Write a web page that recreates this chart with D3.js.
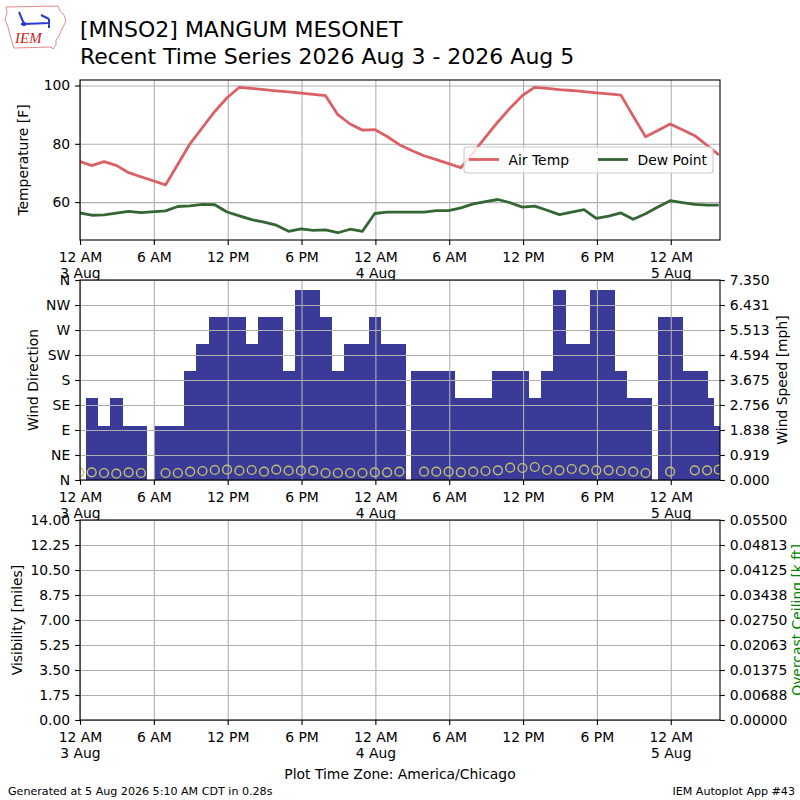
<!DOCTYPE html>
<html>
<head>
<meta charset="utf-8">
<script src="https://cdn.jsdelivr.net/npm/d3@7"></script>
<style>
  body { margin: 0; background: #fff; }
  svg { font-family: 'DejaVu Sans', sans-serif; }
</style>
</head>
<body>
<div id="graf"></div>
<script>
// observaciones (hora local CDT)
obsTime = ['2026-08-02 23:57', '2026-08-03 00:57', '2026-08-03 01:57', '2026-08-03 02:57', '2026-08-03 03:57',
  '2026-08-03 04:57', '2026-08-03 06:32', '2026-08-03 06:57', '2026-08-03 07:57', '2026-08-03 08:57',
  '2026-08-03 09:57', '2026-08-03 10:57', '2026-08-03 11:57', '2026-08-03 12:57', '2026-08-03 13:57',
  '2026-08-03 14:57', '2026-08-03 15:57', '2026-08-03 16:57', '2026-08-03 17:57', '2026-08-03 18:57',
  '2026-08-03 19:57', '2026-08-03 20:57', '2026-08-03 21:57', '2026-08-03 22:57', '2026-08-03 23:57',
  '2026-08-04 00:57', '2026-08-04 01:57', '2026-08-04 02:57', '2026-08-04 03:26', '2026-08-04 03:57',
  '2026-08-04 04:57', '2026-08-04 05:57', '2026-08-04 06:57', '2026-08-04 07:57', '2026-08-04 08:57',
  '2026-08-04 09:57', '2026-08-04 10:57', '2026-08-04 11:57', '2026-08-04 12:57', '2026-08-04 13:57',
  '2026-08-04 14:57', '2026-08-04 15:57', '2026-08-04 16:57', '2026-08-04 17:57', '2026-08-04 18:57',
  '2026-08-04 19:57', '2026-08-04 20:57', '2026-08-04 21:57', '2026-08-04 22:57', '2026-08-04 23:27',
  '2026-08-04 23:57', '2026-08-05 00:26', '2026-08-05 00:57', '2026-08-05 01:26', '2026-08-05 01:57',
  '2026-08-05 02:29', '2026-08-05 02:57', '2026-08-05 03:54']

airTemp = [74.0, 72.5, 73.9, 72.6, 70.1,
  68.7, null, 65.9, 73.0, 80.1,
  85.6, 91.1, 95.8, 99.4, 99.0,
  98.6, 98.2, 97.8, 97.4, 97.0,
  96.5, 90.0, 86.8, 84.7, 84.9,
  82.5, 79.7, 77.7, null, 75.9,
  74.6, 73.2, 71.8, 77.0, 82.3,
  87.5, 92.3, 96.6, 99.4, 99.0,
  98.6, 98.3, 97.9, 97.5, 97.1,
  96.7, 89.5, 82.4, 84.6, null,
  86.8, null, 84.8, null, 82.8,
  null, 79.5, 76.2]

dewPoint = [56.3, 55.5, 55.6, 56.2, 56.8,
  56.4, null, 57.0, 58.5, 58.7,
  59.2, 59.1, 56.6, 55.3, 54.0,
  53.1, 52.1, 50.0, 50.8, 50.3,
  50.5, 49.5, 50.7, 50.0, 56.1,
  56.6, 56.6, 56.6, null, 56.6,
  57.1, 57.1, 58.0, 59.4, 60.2,
  60.9, 59.8, 58.3, 58.6, 57.2,
  55.7, 56.6, 57.4, 54.4, 55.2,
  56.3, 54.1, 56.0, 58.3, null,
  60.5, null, 59.8, null, 59.2,
  null, 59.0, 59.0]

windSpeed = [null, 3, 2, 3, 2,
  2, 2, 2, 2, 4,
  5, 6, 6, 6, 5,
  6, 6, 4, 7, 7,
  6, 4, 5, 5, 6,
  5, 5, null, 4, 4,
  4, 4, 3, 3, 3,
  4, 4, 4, 3, 4,
  7, 5, 5, 7, 7,
  4, 3, 3, null, 6,
  6, 6, null, 4, 4,
  4, 3, 2]

windDir = [13.8, 13.8, 12.6, 11.4, 13.8,
  12.6, null, 12.6, 12.6, 15.0,
  16.2, 18.0, 18.6, 16.8, 18.0,
  15.0, 18.6, 16.8, 16.8, 16.8,
  12.6, 12.6, 12.6, 12.6, 13.8,
  13.8, 15.0, null, null, 15.0,
  15.0, 15.0, 13.8, 15.0, 16.2,
  17.4, 22.2, 21.6, 23.4, 18.0,
  17.4, 19.8, 18.6, 17.4, 17.4,
  16.2, 15.0, 12.6, null, null,
  15.0, null, null, null, 17.4,
  null, 17.4, 18.6]

tempTicks = [60, 80, 100]
dirTicks = [0, 45, 90, 135, 180, 225, 270, 315, 360]
dirLabels = ['N', 'NE', 'E', 'SE', 'S', 'SW', 'W', 'NW', 'N']
visMax = 14
ceilMax = 0.055
plotStart = '2026-08-03 00:00'
plotEnd = '2026-08-05 04:00'

// configuracion general
ancho_total = 800
alto_total = 800
izq = 80
der = 720
paneles = { temp: [80, 240], wind: [280, 480], vis: [520, 720] }
fs = 13.9
gridColor = '#b0b0b0'

parseT = d3.utcParse('%Y-%m-%d %H:%M')
obs = obsTime.map((t, i) => ({
  t: parseT(t), tmpf: airTemp[i], dwpf: dewPoint[i], sped: windSpeed[i], drct: windDir[i]
}))

svg = d3.select('#graf').append('svg')
        .attr('width', ancho_total)
        .attr('height', alto_total)

x = d3.scaleUtc()
      .domain([parseT(plotStart), parseT(plotEnd)])
      .range([izq, der])
timeTicks = d3.utcHour.every(6).range(x.domain()[0], x.domain()[1])

// clip por panel
Object.entries(paneles).forEach(([k, p]) => {
  svg.append('clipPath').attr('id', 'clip-' + k)
     .append('rect')
       .attr('x', izq).attr('y', p[0])
       .attr('width', der - izq).attr('height', p[1] - p[0])
})

function fmtTime(d) {
  if (d.getUTCHours() === 0) return ['12 AM', d3.utcFormat('%-d %b')(d)]
  return [d3.utcFormat('%-I %p')(d)]
}

function roundFmt(dec) {
  const m = Math.pow(10, dec)
  return v => (Math.round(v * m + 1e-6) / m).toFixed(dec)
}

// rejilla de tiempo y eje x
function timeGrid(p) {
  svg.append('g')
     .attr('transform', `translate(0, ${p[1]})`)
     .call(d3.axisBottom(x).tickValues(timeTicks).tickSize(-(p[1] - p[0])).tickFormat(''))
     .call(g => g.select('.domain').remove())
     .selectAll('line').attr('stroke', gridColor).attr('stroke-width', 1.1)
}

function timeAxis(p) {
  const g = svg.append('g')
     .attr('transform', `translate(0, ${p[1]})`)
     .call(d3.axisBottom(x).tickValues(timeTicks).tickSize(4.9).tickPadding(6.8).tickFormat(''))
  g.select('.domain').remove()
  g.selectAll('line').attr('stroke', '#000').attr('stroke-width', 1.1)
  g.selectAll('.tick text')
     .attr('font-size', fs).attr('font-family', 'DejaVu Sans').attr('fill', '#000')
     .each(function(d) {
       const t = d3.select(this)
       fmtTime(d).forEach((s, i) => {
         t.append('tspan').attr('x', 0).attr('dy', i === 0 ? '0.71em' : '1.2em').text(s)
       })
     })
}

function yGrid(scale, vals, p) {
  svg.append('g')
     .attr('transform', `translate(${izq}, 0)`)
     .call(d3.axisLeft(scale).tickValues(vals).tickSize(-(der - izq)).tickFormat(''))
     .call(g => g.select('.domain').remove())
     .selectAll('line').attr('stroke', gridColor).attr('stroke-width', 1.1)
}

function yAxis(scale, vals, fmt, side) {
  const axis = side === 'left' ? d3.axisLeft(scale) : d3.axisRight(scale)
  const g = svg.append('g')
     .attr('transform', `translate(${side === 'left' ? izq : der}, 0)`)
     .call(axis.tickValues(vals).tickSize(4.9).tickPadding(4.9).tickFormat(fmt))
  g.select('.domain').remove()
  g.selectAll('line').attr('stroke', '#000').attr('stroke-width', 1.1)
  g.selectAll('text').attr('font-size', fs).attr('font-family', 'DejaVu Sans').attr('fill', '#000')
}

function frame(p) {
  svg.append('rect')
     .attr('x', izq).attr('y', p[0])
     .attr('width', der - izq).attr('height', p[1] - p[0])
     .attr('fill', 'none').attr('stroke', '#000').attr('stroke-width', 1.1)
}

function yLabel(txt, cx, p, color) {
  svg.append('text')
     .attr('transform', `translate(${cx}, ${(p[0] + p[1]) / 2}) rotate(-90)`)
     .attr('text-anchor', 'middle')
     .attr('dominant-baseline', 'central')
     .attr('font-size', fs)
     .attr('fill', color || '#000')
     .text(txt)
}

// ---- panel temperatura
pT = paneles.temp
vals = obs.flatMap(d => [d.tmpf, d.dwpf]).filter(v => v != null)
lo = d3.min(vals); hi = d3.max(vals); pad = (hi - lo) * 0.05
yT = d3.scaleLinear().domain([lo - pad, hi + pad]).range([pT[1], pT[0]])

timeGrid(pT)
yGrid(yT, tempTicks, pT)

series = [
  { key: 'tmpf', label: 'Air Temp', color: '#db6065' },
  { key: 'dwpf', label: 'Dew Point', color: '#346633' }
]
linea = key => d3.line().x(d => x(d.t)).y(d => yT(d[key]))
series.forEach(s => {
  svg.append('path')
     .datum(obs.filter(d => d[s.key] != null))
     .attr('clip-path', 'url(#clip-temp)')
     .attr('d', linea(s.key))
     .attr('fill', 'none')
     .attr('stroke', s.color)
     .attr('stroke-width', 2.8)
     .attr('stroke-linejoin', 'round')
})

frame(pT)
yAxis(yT, tempTicks, d => d, 'left')
timeAxis(pT)
yLabel('Temperature [F]', 22.7, pT)

// leyenda
leg = svg.append('g').attr('transform', 'translate(464, 147)')
leg.append('rect')
   .attr('width', 249).attr('height', 26).attr('rx', 3)
   .attr('fill', 'rgba(255,255,255,0.8)').attr('stroke', '#cccccc').attr('stroke-width', 1.1)
series.forEach((s, i) => {
  const ox = i === 0 ? 5 : 134
  leg.append('line')
     .attr('x1', ox).attr('x2', ox + 30).attr('y1', 12.5).attr('y2', 12.5)
     .attr('stroke', s.color).attr('stroke-width', 2.8)
  leg.append('text')
     .attr('x', ox + 39.5).attr('y', 17.5)
     .attr('font-size', fs)
     .text(s.label)
})

// ---- panel viento
pW = paneles.wind
yDir = d3.scaleLinear().domain([0, 360]).range([pW[1], pW[0]])
spdMax = d3.max(windSpeed) * 1.05
ySpd = d3.scaleLinear().domain([0, spdMax]).range([pW[1], pW[0]])
spdTicks = d3.range(9).map(i => i * spdMax / 8)
half = 30 * 60 * 1000

svg.append('g')
   .attr('clip-path', 'url(#clip-wind)')
   .attr('shape-rendering', 'crispEdges')
   .selectAll('rect')
   .data(obs.filter(d => d.sped != null))
   .enter()
   .append('rect')
     .attr('x', d => x(new Date(+d.t - half)))
     .attr('width', d => x(new Date(+d.t + half)) - x(new Date(+d.t - half)) + 0.4)
     .attr('y', d => ySpd(d.sped))
     .attr('height', d => ySpd(0) - ySpd(d.sped))
     .attr('fill', '#3a3a98')

timeGrid(pW)
yGrid(yDir, dirTicks, pW)

svg.append('g')
   .attr('clip-path', 'url(#clip-wind)')
   .selectAll('circle')
   .data(obs.filter(d => d.drct != null))
   .enter()
   .append('circle')
     .attr('cx', d => x(d.t))
     .attr('cy', d => yDir(d.drct))
     .attr('r', 4.4)
     .attr('fill', 'none')
     .attr('stroke', '#c4bf6e')
     .attr('stroke-width', 1.4)

frame(pW)
yAxis(yDir, dirTicks, (d, i) => dirLabels[i], 'left')
yAxis(ySpd, spdTicks, roundFmt(3), 'right')
timeAxis(pW)
yLabel('Wind Direction', 33, pW)
yLabel('Wind Speed [mph]', 782, pW)

// ---- panel visibilidad (sin datos)
pV = paneles.vis
yVis = d3.scaleLinear().domain([0, visMax]).range([pV[1], pV[0]])
yCeil = d3.scaleLinear().domain([0, ceilMax]).range([pV[1], pV[0]])
visTicks = d3.range(9).map(i => i * visMax / 8)
ceilTicks = d3.range(9).map(i => i * ceilMax / 8)

timeGrid(pV)
yGrid(yVis, visTicks, pV)
frame(pV)
yAxis(yVis, visTicks, roundFmt(2), 'left')
yAxis(yCeil, ceilTicks, roundFmt(5), 'right')
timeAxis(pV)
yLabel('Visibility [miles]', 17, pV)
yLabel('Overcast Ceiling [k ft]', 797, pV, '#008000')

// ---- titulos
svg.append('text').attr('x', 80).attr('y', 36.5).attr('font-size', 22)
   .text('[MNSO2] MANGUM MESONET')
svg.append('text').attr('x', 80).attr('y', 64).attr('font-size', 22)
   .text('Recent Time Series 2026 Aug 3 - 2026 Aug 5')

svg.append('text').attr('x', 400).attr('y', 779).attr('text-anchor', 'middle').attr('font-size', fs)
   .text('Plot Time Zone: America/Chicago')
svg.append('text').attr('x', 8).attr('y', 795).attr('font-size', 11.1)
   .text('Generated at 5 Aug 2026 5:10 AM CDT in 0.28s')
svg.append('text').attr('x', 795).attr('y', 795).attr('text-anchor', 'end').attr('font-size', 11.1)
   .text('IEM Autoplot App #43')

// ---- logo IEM
logo = svg.append('g')
logo.append('path')
    .attr('d', 'M6,7 L58,6 L60,11 L64,15 L66,21 L63,27 L61,31 L59,36 L56,40 L56,45 L53,49 L51,47 L14,48 L12,42 L10,35 L8,27 L5,19 L7,13 Z')
    .attr('fill', 'none').attr('stroke', '#e58a8a').attr('stroke-width', 1)
logo.append('path')
    .attr('d', 'M24,24 L50,23 M19,12 L24,24 M41,15 L49,19 M49,19 L49,28 M21,24 L24,24')
    .attr('fill', 'none').attr('stroke', '#2a3ccc').attr('stroke-width', 2)
logo.append('circle').attr('cx', 24).attr('cy', 24).attr('r', 2.2).attr('fill', '#2a3ccc')
logo.append('text')
    .attr('x', 15).attr('y', 43)
    .attr('font-family', 'Liberation Serif, serif')
    .attr('font-style', 'italic')
    .attr('font-size', 15)
    .attr('fill', '#d02525')
    .text('IEM')
</script>
</body>
</html>
